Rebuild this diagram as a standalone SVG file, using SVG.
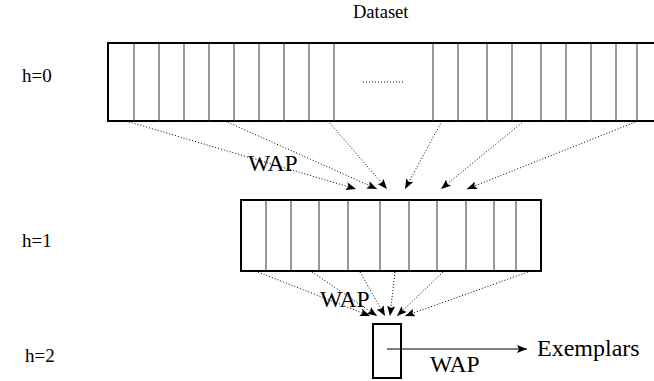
<svg xmlns="http://www.w3.org/2000/svg" width="654" height="381" viewBox="0 0 654 381">
<style>
.t{font-family:"Liberation Serif","Times New Roman",serif;fill:#000}
.box{fill:#fff;stroke:#000;stroke-width:2}
.cell{stroke:#333;stroke-width:1}
.dot{fill:none;stroke:#000;stroke-width:1;stroke-dasharray:1 2}
.sol{fill:none;stroke:#000;stroke-width:1}
</style>
<defs>
<marker id="ah" viewBox="0 0 10 8" refX="10" refY="4" markerWidth="10" markerHeight="8" markerUnits="userSpaceOnUse" orient="auto">
<path d="M0,0 L10,4 L0,8 L2,4 Z" fill="#000"/>
</marker>
</defs>
<text class="t" x="353" y="18" font-size="18.5">Dataset</text>
<text class="t" x="22" y="82" font-size="19">h=0</text>
<text class="t" x="22" y="247" font-size="19">h=1</text>
<text class="t" x="25" y="362" font-size="19">h=2</text>
<g id="level0">
<rect class="box" x="108" y="43" width="560" height="78"/>
<path class="cell" d="M134,43V121M159,43V121M184,43V121M209,43V121M234,43V121M259,43V121M284,43V121M309,43V121M334,43V121M433,43V121M458,43V121M487,43V121M512,43V121M541,43V121M566,43V121M591,43V121M616,43V121M637,43V121"/>
<path class="dot" d="M363,82H403"/>
</g>
<g id="level1">
<rect class="box" x="241" y="200" width="300" height="71"/>
<path class="cell" d="M266,200V271M291,200V271M319,200V271M348,200V271M380,200V271M409,200V271M437,200V271M466,200V271M494,200V271M516,200V271"/>
</g>
<g id="level2">
<rect class="box" x="373" y="324" width="28" height="54"/>
</g>
<g id="connectors">
<path class="dot" marker-end="url(#ah)" d="M126,121L356,189"/>
<path class="dot" marker-end="url(#ah)" d="M225,121L377,189"/>
<path class="dot" marker-end="url(#ah)" d="M328,121L387,189"/>
<path class="dot" marker-end="url(#ah)" d="M442,121L405,189"/>
<path class="dot" marker-end="url(#ah)" d="M524,121L441,189"/>
<path class="dot" marker-end="url(#ah)" d="M638,121L467,189"/>
<path class="dot" marker-end="url(#ah)" d="M258,272L370,316"/>
<path class="dot" marker-end="url(#ah)" d="M312,272L377,316"/>
<path class="dot" marker-end="url(#ah)" d="M360,272L385,316"/>
<path class="dot" marker-end="url(#ah)" d="M395,272L390,316"/>
<path class="dot" marker-end="url(#ah)" d="M443,272L397,316"/>
<path class="dot" marker-end="url(#ah)" d="M528,272L405,316"/>
<path class="sol" marker-end="url(#ah)" d="M387,349H527"/>
</g>
<text class="t" x="248" y="171" font-size="23.5">WAP</text>
<text class="t" x="320" y="307" font-size="23.5">WAP</text>
<text class="t" x="430" y="372" font-size="23.5">WAP</text>
<text class="t" x="537" y="356" font-size="24">Exemplars</text>
</svg>
